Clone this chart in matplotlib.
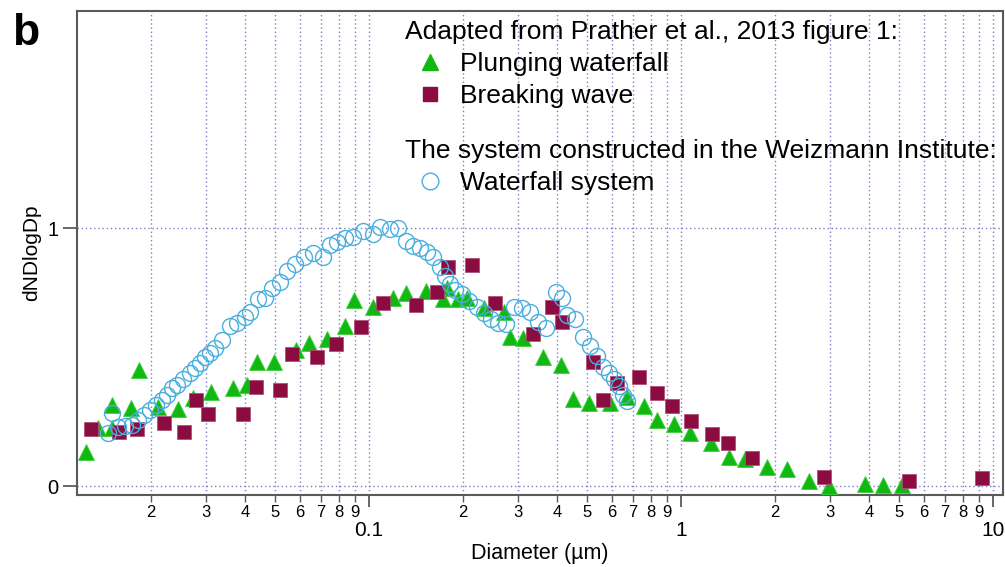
import math
import matplotlib
matplotlib.use("Agg")
import matplotlib.pyplot as plt
from matplotlib.lines import Line2D
from matplotlib.ticker import FixedLocator, FuncFormatter

plt.rcParams['font.family'] = ['Liberation Sans', 'DejaVu Sans']

# ---- data (diameter in µm, dN/dlogDp normalised) ----
plunging_d = [0.01239, 0.01353, 0.01501, 0.01501, 0.01727, 0.01832, 0.02107, 0.02443,
              0.02728, 0.03116, 0.03665, 0.04064, 0.04375, 0.04962, 0.05834, 0.06421,
              0.07333, 0.08377, 0.08953, 0.1030, 0.1194, 0.1314, 0.1523, 0.1778,
              0.1726, 0.1929, 0.2061, 0.2336, 0.2708, 0.2830, 0.3116, 0.3611,
              0.4124, 0.4506, 0.5071, 0.5922, 0.6713, 0.7608, 0.8378, 0.9497,
              1.069, 1.248, 1.425, 1.603, 1.886, 2.187, 2.572, 2.981,
              3.889, 4.441, 5.109]
plunging_v = [0.133, 0.226, 0.315, 0.226, 0.304, 0.451, 0.308, 0.300,
              0.342, 0.366, 0.381, 0.393, 0.482, 0.482, 0.530, 0.555,
              0.571, 0.621, 0.721, 0.694, 0.729, 0.749, 0.756, 0.768,
              0.725, 0.725, 0.729, 0.691, 0.675, 0.578, 0.574, 0.501,
              0.470, 0.338, 0.323, 0.323, 0.346, 0.311, 0.257, 0.242,
              0.207, 0.168, 0.114, 0.106, 0.075, 0.068, 0.021, 0.002,
              0.010, 0.006, 0.006]

breaking_d = [0.01285, 0.01580, 0.01805, 0.02203, 0.02553, 0.02789, 0.03048, 0.03946,
              0.04343, 0.05186, 0.05664, 0.06811, 0.07836, 0.09428, 0.1109, 0.1414,
              0.1652, 0.1791, 0.2138, 0.2534, 0.3354, 0.3858, 0.4155, 0.5223,
              0.5623, 0.6235, 0.7334, 0.8378, 0.9358, 1.077, 1.257, 1.414,
              1.689, 2.873, 5.381, 9.221]
breaking_v = [0.222, 0.211, 0.222, 0.246, 0.211, 0.335, 0.280, 0.280,
              0.385, 0.373, 0.513, 0.501, 0.551, 0.617, 0.710, 0.702,
              0.752, 0.849, 0.857, 0.710, 0.590, 0.694, 0.636, 0.482,
              0.335, 0.400, 0.424, 0.362, 0.311, 0.253, 0.203, 0.168,
              0.110, 0.037, 0.021, 0.033]

waterfall_d = [0.01457, 0.01501, 0.01569, 0.01651, 0.01739, 0.01818, 0.01900, 0.01987,
               0.02077, 0.02170, 0.02253, 0.02337, 0.02425, 0.02534, 0.02668, 0.02769,
               0.02873, 0.02981, 0.03093, 0.03209, 0.03380, 0.03585, 0.03775, 0.04004,
               0.04155, 0.04408, 0.04642, 0.04889, 0.05186, 0.05459, 0.05791, 0.06189,
               0.06613, 0.07120, 0.07499, 0.07895, 0.08377, 0.08887, 0.09568, 0.1030,
               0.1085, 0.1168, 0.1239, 0.1314, 0.1384, 0.1457, 0.1534, 0.1604,
               0.1689, 0.1752, 0.1818, 0.1886, 0.1986, 0.2092, 0.2219, 0.2336,
               0.2460, 0.2591, 0.2748, 0.2915, 0.3093, 0.3281, 0.3480, 0.3692,
               0.3975, 0.4155, 0.4311, 0.4573, 0.4852, 0.5109, 0.5377, 0.5623,
               0.5878, 0.6099, 0.6327, 0.6517, 0.6713]
waterfall_v = [0.207, 0.284, 0.230, 0.234, 0.238, 0.257, 0.277, 0.296,
               0.315, 0.335, 0.354, 0.381, 0.393, 0.416, 0.439, 0.458,
               0.478, 0.501, 0.516, 0.536, 0.567, 0.621, 0.632, 0.656,
               0.675, 0.725, 0.729, 0.768, 0.791, 0.834, 0.861, 0.888,
               0.903, 0.888, 0.934, 0.946, 0.961, 0.965, 0.988, 0.977,
               1.004, 0.996, 1.000, 0.950, 0.930, 0.923, 0.907, 0.888,
               0.849, 0.814, 0.783, 0.760, 0.745, 0.718, 0.694, 0.671,
               0.648, 0.632, 0.629, 0.694, 0.691, 0.675, 0.636, 0.613,
               0.752, 0.729, 0.663, 0.648, 0.578, 0.544, 0.505, 0.462,
               0.439, 0.416, 0.389, 0.354, 0.331]

major_ticks = [0.1, 1, 10]
minor_ticks = [m * 10.0 ** e for e in (-2, -1, 0) for m in range(2, 10)]
y_ticks = [0, 1]

legend1_title = "Adapted from Prather et al., 2013 figure 1:"
legend2_title = "The system constructed in the Weizmann Institute:"
label_plunging = "Plunging waterfall"
label_breaking = "Breaking wave"
label_waterfall = "Waterfall system"

GREEN = '#12b812'
MAROON = '#8a0c40'
BLUE = '#4aaedf'
GRID = '#7f7fc6'
FRAME = '#5a5a5a'

W, H = 1005, 567
fig = plt.figure(figsize=(W / 100, H / 100), dpi=100)
ax = fig.add_axes([77 / W, 1 - 495 / H, (1003 - 77) / W, (495 - 11) / H])
ax.set_xscale('log')
ax.set_xlim(0.01159, 10.76)
ax.set_ylim(-0.033, 1.84)

ax.plot(plunging_d, plunging_v, linestyle='none', marker='^', ms=12,
        mfc=GREEN, mec='#3fd03f', mew=0.6, zorder=3)
ax.plot(breaking_d, breaking_v, linestyle='none', marker='s', ms=10.5,
        mfc=MAROON, mec='#b05078', mew=0.6, zorder=4)
ax.plot(waterfall_d, waterfall_v, linestyle='none', marker='o', ms=11.5,
        mfc='none', mec=BLUE, mew=1.0, zorder=5)


def minor_fmt(v, pos):
    return f"{round(v / 10 ** math.floor(math.log10(v) + 1e-9))}"


ax.xaxis.set_major_locator(FixedLocator(major_ticks))
ax.xaxis.set_minor_locator(FixedLocator(minor_ticks))
ax.xaxis.set_major_formatter(FuncFormatter(lambda v, p: f"{v:g}"))
ax.xaxis.set_minor_formatter(FuncFormatter(minor_fmt))
ax.yaxis.set_major_locator(FixedLocator(y_ticks))
ax.yaxis.set_minor_locator(FixedLocator([]))

ax.tick_params(axis='x', which='major', direction='out', length=8.6, width=1.3,
               color=FRAME, labelsize=15, pad=10)
ax.tick_params(axis='x', which='minor', direction='out', length=5, width=1.0,
               color=FRAME, labelsize=12, pad=2)
ax.tick_params(axis='y', which='major', direction='out', length=10, width=1.3,
               color=FRAME, labelsize=14.5, pad=3.5)

ax.grid(True, which='both', axis='x', color=GRID, linestyle=(0, (1, 2)), linewidth=1.0)
ax.grid(True, which='major', axis='y', color=GRID, linestyle=(0, (1, 2)), linewidth=1.0)
ax.set_axisbelow(True)

for s in ax.spines.values():
    s.set_color(FRAME)
    s.set_linewidth(1.5)

ax.set_xlabel("Diameter (µm)", fontsize=15.5, labelpad=2)
ax.set_ylabel("dNDlogDp", fontsize=15, labelpad=4)

fig.text(12 / W, 1 - 45 / H, "b", fontsize=32, fontweight='bold', ha='left', va='baseline')

# legends
h_tri = Line2D([], [], linestyle='none', marker='^', ms=12, mfc=GREEN, mec=GREEN)
h_sq = Line2D([], [], linestyle='none', marker='s', ms=10.5, mfc=MAROON, mec=MAROON)
h_ci = Line2D([], [], linestyle='none', marker='o', ms=12, mfc='none', mec=BLUE, mew=1.0)

common = dict(frameon=False, fontsize=19, title_fontsize=19, alignment='left',
              handlelength=1.9, handletextpad=0.2, borderpad=0, borderaxespad=0,
              labelspacing=0.3, loc='upper left', bbox_transform=fig.transFigure)
leg1 = ax.legend([h_tri, h_sq], [label_plunging, label_breaking], title=legend1_title,
                 bbox_to_anchor=(405 / W, 1 - 20 / H), **common)
ax.add_artist(leg1)
leg2 = ax.legend([h_ci], [label_waterfall], title=legend2_title,
                 bbox_to_anchor=(405 / W, 1 - 139 / H), **common)

fig.savefig("out.png", dpi=100)
